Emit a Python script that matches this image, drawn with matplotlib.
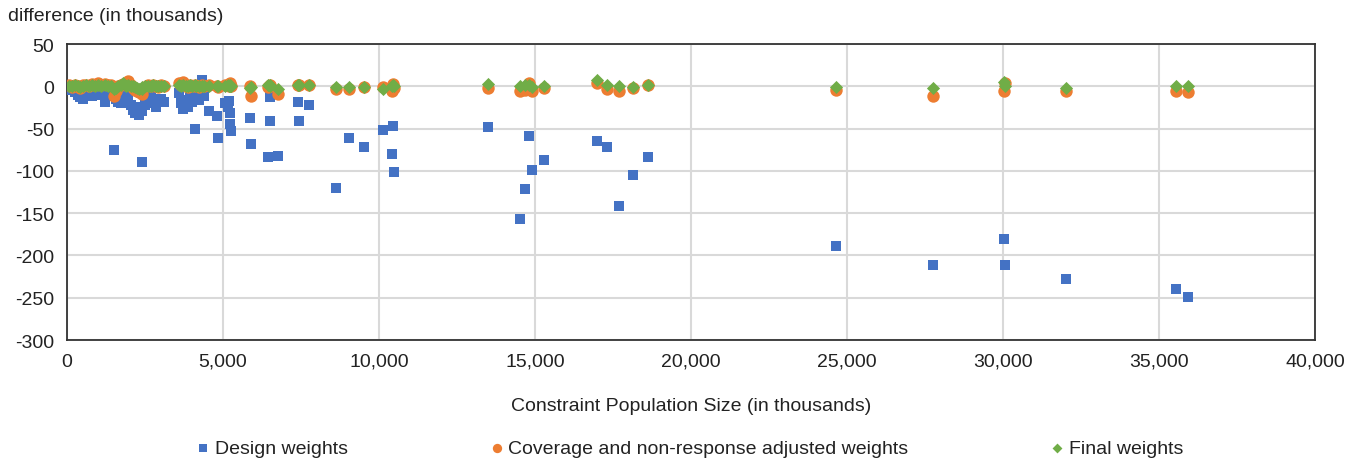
import matplotlib
matplotlib.use('Agg')
import matplotlib.pyplot as plt
from matplotlib.ticker import FuncFormatter, MultipleLocator

plt.rcParams['font.family'] = ['Liberation Sans', 'DejaVu Sans']

# constraint population size (thousands)
pop_size = [0.05, 0.15, 0.25, 0.35, 0.42, 0.5, 0.6, 0.7, 0.8, 0.9, 1.0, 1.1, 1.22, 1.3, 1.4,
            1.51, 1.58, 1.64, 1.72, 1.8, 1.88, 1.96, 2.05, 2.12, 2.18, 2.25, 2.32, 2.39, 2.41,
            2.5, 2.6, 2.68, 2.76, 2.85, 2.93, 3.02, 3.12,
            3.6, 3.65, 3.72, 3.8, 3.88, 3.95, 4.02, 4.1, 4.15, 4.22, 4.32, 4.4, 4.56, 4.82,
            4.85, 5.06, 5.15, 5.2, 5.22, 5.24, 5.26,
            5.87, 5.9, 6.45, 6.5, 6.52, 6.77, 7.41, 7.43, 7.77, 8.62, 9.05, 9.53, 10.14,
            10.43, 10.46, 10.48, 13.5, 14.52, 14.69, 14.82, 14.91, 15.29, 17.0, 17.32,
            17.69, 18.15, 18.63, 24.66, 27.76, 30.03, 30.05, 32.03, 35.55, 35.94]

# difference (thousands)
design = [-1, -4, -7, -10, -13, -15, -9, -6, -11, -8, -5, -10, -18, -12, -7,
          -75, -15, -18, -20, -12, -16, -10, -22, -28, -31, -24, -34, -29, -89,
          -22, -15, -12, -20, -24, -18, -15, -18,
          -8, -20, -27, -16, -24, -13, -18, -50, -9, -16, 7, -12, -29, -35,
          -61, -20, -24, -17, -31, -45, -53,
          -37, -68, -83, -13, -41, -82, -18, -41, -22, -120, -61, -72, -52,
          -80, -47, -101, -48, -157, -122, -59, -99, -87, -65, -72,
          -141, -105, -83, -189, -211, -180, -211, -228, -240, -249]

coverage = [1, -1, 2, 0, -2, 1, 2, 0, 3, 2, 4, 1, 3, 2, 1,
            -12, -6, 0, 2, 3, 1, 6, 2, -2, -4, -6, -7, -9, -3,
            -1, 1, 0, 2, 0, -1, 1, 0,
            4, 1, 5, 0, -1, 1, 0, 2, 0, -1, 1, 0, 1, 0,
            -1, 1, 2, 0, 4, 1, 0,
            0, -12, -1, 0, 1, -9, 2, 1, 1, -3, -3, -1, -1,
            -5, 3, -2, -2, -5, -4, 4, -6, -2, 4, -3,
            -5, -2, 2, -4, -11, -6, 4, -5, -5, -7]

final = [0, 0, 1, 0, -1, 0, 1, 0, 1, 0, 1, 0, 1, 0, 0,
         -3, -2, 0, 1, 4, 0, 2, 0, 0, -1, -2, -3, -3, -1,
         0, 0, 0, 1, 0, 0, 0, 0,
         1, 0, 2, 0, 0, 1, 0, 1, 0, 0, 0, 0, 0, 0,
         0, 0, 1, 0, 1, 0, 0,
         -2, -1, 1, 1, 0, -3, 1, 1, 1, -1, -1, -1, -3,
         0, 1, 0, 3, 0, 1, 1, -1, 0, 8, 1,
         0, -1, 2, -1, -2, 5, 0, -2, 0, 0]

fig = plt.figure(figsize=(13.58, 4.64), dpi=100)
ax = fig.add_axes([0.0493, 0.265, 0.9190, 0.638])

ax.scatter(pop_size, design, marker='s', s=62, color='#4472C4', lw=0,
           label='Design weights', zorder=3)
ax.scatter(pop_size, coverage, marker='o', s=80, color='#ED7D31', lw=0,
           label='Coverage and non-response adjusted weights', zorder=4)
ax.scatter(pop_size, final, marker='D', s=45, color='#70AD47', lw=0,
           label='Final weights', zorder=5)

ax.set_xlim(0, 40)
ax.set_ylim(-300, 50)
ax.xaxis.set_major_locator(MultipleLocator(5))
ax.yaxis.set_major_locator(MultipleLocator(50))
ax.xaxis.set_major_formatter(FuncFormatter(lambda v, p: f'{int(round(v * 1000)):,}'))
ax.yaxis.set_major_formatter(FuncFormatter(lambda v, p: f'{int(v)}'))
ax.tick_params(length=0, labelsize=14, colors='#222222', pad=9)
ax.grid(True, color='#D9D9D9', lw=1.5, zorder=0)
ax.set_axisbelow(True)
for sp in ax.spines.values():
    sp.set_color('#333333')
    sp.set_linewidth(1.3)

fig.text(0.006, 0.965, 'difference (in thousands)', fontsize=14, color='#222222', va='center')
ax.set_xlabel('Constraint Population Size (in thousands)', fontsize=14, color='#222222', labelpad=20)

ax.legend(loc='center', bbox_to_anchor=(0.5, -0.365), ncol=3, frameon=False, fontsize=14,
          handlelength=0.5, handletextpad=0.35, columnspacing=7.4, markerscale=0.75,
          labelcolor='#222222')

fig.savefig('out.png', dpi=100)
